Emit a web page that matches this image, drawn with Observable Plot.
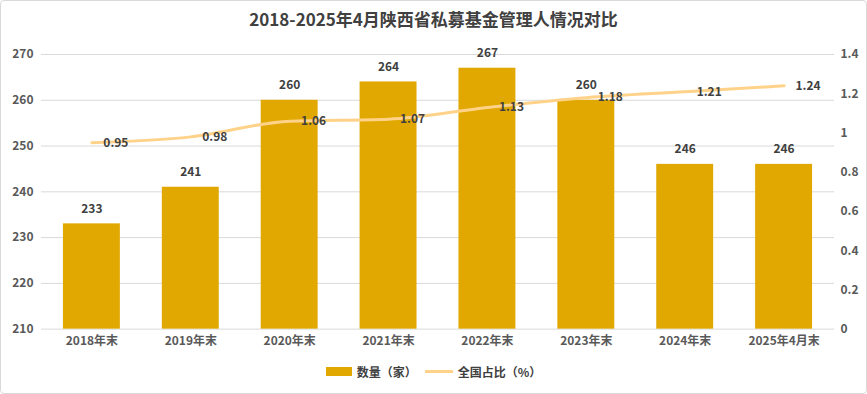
<!DOCTYPE html>
<html><head><meta charset="utf-8">
<script src="https://cdn.jsdelivr.net/npm/d3@7"></script>
<script src="https://cdn.jsdelivr.net/npm/@observablehq/plot@0.6"></script>
<style>
html,body{margin:0;padding:0;background:#fff;}
#wrap{position:relative;width:865px;height:392px;border:1px solid #d9d9d9;border-radius:4px;font-family:"Noto Sans CJK SC","Noto Sans",sans-serif;overflow:hidden;}
#title{position:absolute;left:0;top:5px;width:865px;text-align:center;font-size:17px;font-weight:bold;color:#404040;}
#chart{position:absolute;left:-1px;top:35px;}
#legend{position:absolute;top:362px;left:0;width:865px;display:flex;justify-content:center;align-items:center;font-size:12px;color:#404040;font-weight:bold;}
.sw{display:inline-block;margin-right:5px;}
</style></head>
<body><div id="wrap"><div id="title">2018-2025年4月陕西省私募基金管理人情况对比</div><div id="chart"></div>
<div id="legend"><span class="sw" style="width:26px;height:9px;background:#E0A800"></span><span style="margin-right:8px">数量（家）</span><span class="sw" style="width:28px;height:3px;background:#FFD28A"></span><span>全国占比（%）</span></div></div>
<script>
const categories = ["2018年末","2019年末","2020年末","2021年末","2022年末","2023年末","2024年末","2025年4月末"];
const counts = [233,241,260,264,267,260,246,246];
const shares = [0.95,0.98,1.06,1.07,1.13,1.18,1.21,1.24];
const leftTicks = [210,220,230,240,250,260,270];
const rightTicks = [0,0.2,0.4,0.6,0.8,1,1.2,1.4];

const yMin = 210, yMax = 270, rMax = 1.4;
const toLeft = v => yMin + v / rMax * (yMax - yMin);
const data = categories.map((c,i)=>({cat:c,count:counts[i],share:shares[i],shareY:toLeft(shares[i])}));
const font = "Noto Sans CJK SC";

const chart = Plot.plot({
  width: 867, height: 320,
  marginTop: 18, marginBottom: 27, marginLeft: 41, marginRight: 32,
  style: {fontFamily: font, fontSize: "12px", color: "#595959", fontWeight: "bold"},
  x: {domain: categories, paddingInner: 0.42, paddingOuter: 0.21, label: null},
  y: {domain: [yMin, yMax], label: null},
  marks: [
    Plot.gridY(leftTicks, {stroke: "#d9d9d9", strokeOpacity: 1}),
    Plot.axisY(leftTicks, {anchor: "left", tickSize: 0, tickPadding: 8, label: null, fontSize: 12}),
    Plot.axisY(rightTicks.map(toLeft), {anchor: "right", tickSize: 0, tickPadding: 6, label: null, tickFormat: (d,i) => String(rightTicks[i]), fontSize: 12}),
    Plot.axisX({tickSize: 0, tickPadding: 7, label: null, fontSize: 12}),
    Plot.barY(data, {x: "cat", y1: yMin, y2: "count", fill: "#E0A800"}),
    Plot.text(data, {x: "cat", y: "count", text: d => String(d.count), dy: -15, fill: "#404040", fontSize: 12, fontWeight: "bold"}),
    Plot.line(data, {x: "cat", y: "shareY", stroke: "#FFD28A", strokeWidth: 3, curve: "monotone-x"}),
    Plot.text(data, {x: "cat", y: "shareY", text: d => String(d.share), dx: 24, fill: "#404040", fontSize: 12, fontWeight: "bold"})
  ]
});
document.getElementById("chart").appendChild(chart);
</script></body></html>
